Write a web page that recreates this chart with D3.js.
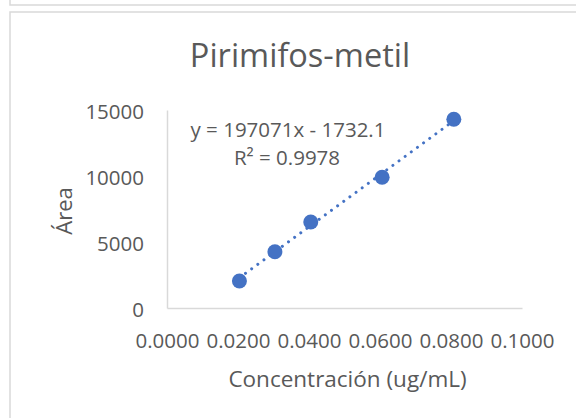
<!DOCTYPE html>
<html>
<head>
<meta charset="utf-8">
<script src="https://cdn.jsdelivr.net/npm/d3@7"></script>
<style>
  body { margin: 0; background: #fff; }
  svg text { font-family: "Open Sans", sans-serif; fill: #595959; }
</style>
</head>
<body>
<div id="chart"></div>
<script>
// datos
var concentracion = [0.0204, 0.0304, 0.0405, 0.0606, 0.0808];
var area = [2050, 4265, 6515, 9900, 14295];
var xTicks = [0, 0.02, 0.04, 0.06, 0.08, 0.1];
var yTicks = [0, 5000, 10000, 15000];
var pendiente = 197071, intercepto = -1732.1, r2 = 0.9978;
var titulo = "Pirimifos-metil";
var tituloX = "Concentración (ug/mL)";
var tituloY = "Área";

var width = 576, height = 418;
var azul = "#4472C4", gris = "#d9d9d9";

var svg = d3.select("#chart").append("svg")
    .attr("width", width)
    .attr("height", height);

// bordes de los graficos (el de arriba esta cortado)
svg.append("rect")
    .attr("x", 10).attr("y", -50)
    .attr("width", 700).attr("height", 55)
    .attr("fill", "none").attr("stroke", gris).attr("stroke-width", 1.5);
svg.append("rect")
    .attr("x", 10).attr("y", 12)
    .attr("width", 700).attr("height", 500)
    .attr("fill", "none").attr("stroke", gris).attr("stroke-width", 1.5);

// escalas
var x = d3.scaleLinear().domain([0, 0.1]).range([167, 522]);
var y = d3.scaleLinear().domain([0, 15000]).range([308, 110]);

// eje x
var gx = svg.append("g")
    .attr("transform", "translate(0," + y(0) + ")")
    .call(d3.axisBottom(x).tickValues(xTicks).tickSize(0)
        .tickFormat(function (d) { return d3.format(".4f")(d); }));
gx.select(".domain").attr("stroke", gris).attr("stroke-width", 1.5);
gx.selectAll("text")
    .attr("y", 39.5).attr("dy", null)
    .style("font-size", "20.5px").style("font-family", "'Open Sans', sans-serif")
    .attr("fill", "#595959");

// eje y
var gy = svg.append("g")
    .attr("transform", "translate(" + x(0) + ",0)")
    .call(d3.axisLeft(y).tickValues(yTicks).tickSize(0)
        .tickFormat(function (d) { return d; }));
gy.select(".domain").attr("stroke", gris).attr("stroke-width", 1.5);
gy.selectAll("text")
    .attr("x", -23).attr("dy", null).attr("y", 8.8)
    .style("font-size", "20.5px").style("font-family", "'Open Sans', sans-serif")
    .attr("fill", "#595959");

// linea de tendencia (punteada)
var xMin = d3.min(concentracion), xMax = d3.max(concentracion);
svg.append("line")
    .attr("x1", x(xMin)).attr("y1", y(pendiente * xMin + intercepto))
    .attr("x2", x(xMax)).attr("y2", y(pendiente * xMax + intercepto))
    .attr("stroke", azul)
    .attr("stroke-width", 3)
    .attr("stroke-linecap", "round")
    .attr("stroke-dasharray", "0.01 7.6");

// puntos
svg.append("g")
    .selectAll("circle")
    .data(concentracion)
    .enter().append("circle")
    .attr("cx", function (d) { return x(d); })
    .attr("cy", function (d, i) { return y(area[i]); })
    .attr("r", 7.5)
    .attr("fill", azul);

// titulo
svg.append("text")
    .attr("x", 300).attr("y", 67)
    .attr("text-anchor", "middle")
    .style("font-size", "32.5px")
    .text(titulo);

// ecuacion y R2
svg.append("text")
    .attr("x", 288).attr("y", 137)
    .attr("text-anchor", "middle")
    .style("font-size", "20.5px")
    .text("y = " + pendiente + "x - " + Math.abs(intercepto));
svg.append("text")
    .attr("x", 287).attr("y", 165)
    .attr("text-anchor", "middle")
    .style("font-size", "20.5px")
    .text("R² = " + r2);

// titulos de ejes
svg.append("text")
    .attr("x", 347.5).attr("y", 387)
    .attr("text-anchor", "middle")
    .style("font-size", "22.5px")
    .text(tituloX);
svg.append("text")
    .attr("transform", "translate(72,211)rotate(-90)")
    .attr("text-anchor", "middle")
    .style("font-size", "22px")
    .text(tituloY);
</script>
</body>
</html>
